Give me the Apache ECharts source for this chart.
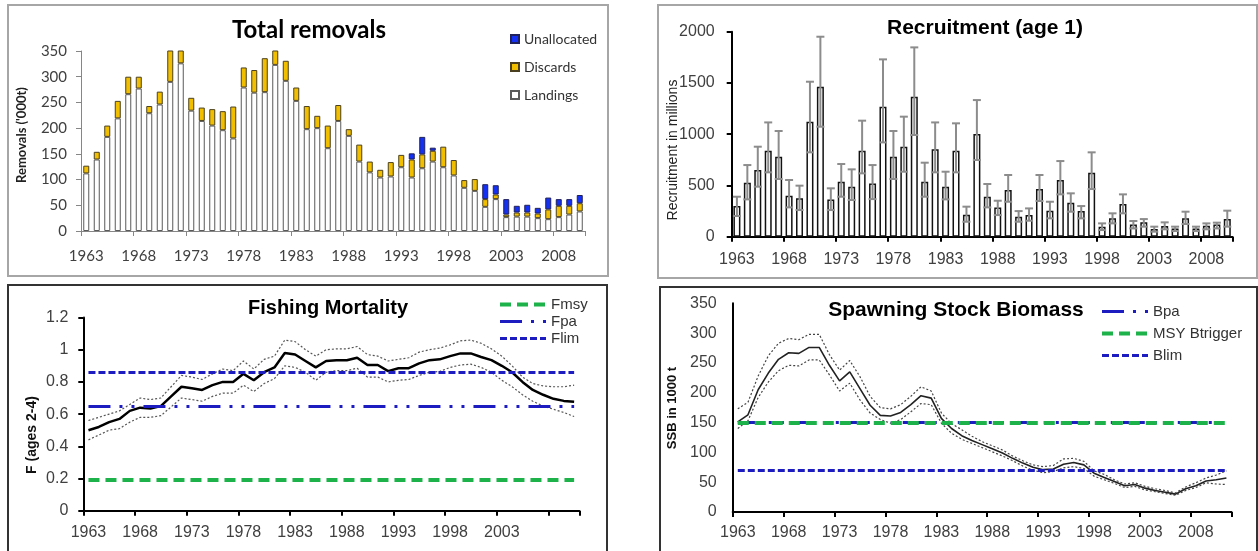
<!DOCTYPE html>
<html><head><meta charset="utf-8">
<script src="https://cdn.jsdelivr.net/npm/echarts@6/dist/echarts.min.js"></script>
<style>html,body{margin:0;padding:0;background:#fff}#c{width:1258px;height:551px}</style>
</head><body><div id="c"></div>
<script>
// ---------- categories ----------
const years = ['1963','1964','1965','1966','1967','1968','1969','1970','1971','1972',
  '1973','1974','1975','1976','1977','1978','1979','1980','1981','1982',
  '1983','1984','1985','1986','1987','1988','1989','1990','1991','1992',
  '1993','1994','1995','1996','1997','1998','1999','2000','2001','2002',
  '2003','2004','2005','2006','2007','2008','2009','2010'];
const ssbYears = ['1963','1964','1965','1966','1967','1968','1969','1970','1971','1972',
  '1973','1974','1975','1976','1977','1978','1979','1980','1981','1982',
  '1983','1984','1985','1986','1987','1988','1989','1990','1991','1992',
  '1993','1994','1995','1996','1997','1998','1999','2000','2001','2002',
  '2003','2004','2005','2006','2007','2008','2009','2010','2011'];

// ---------- Total removals ('000 t) ----------
const landings = [112,139,183,219,266,277,229,246,290,326,
  234,214,205,196,180,279,269,270,323,292,
  253,198,200,161,214,185,135,114,104,106,
  124,104,122,135,124,108,84,78,47,62,
  27,28,28,25,23,27,32,38];
const discards = [15,15,22,34,34,23,14,25,64,32,
  25,26,32,37,62,39,44,66,37,39,
  26,45,24,44,31,13,33,21,15,28,
  24,35,27,21,40,30,15,23,15,9,
  5,8,8,9,19,22,17,16];
const unallocated = [0,0,0,0,0,0,0,0,0,0,
  0,0,0,0,0,0,0,0,0,0,
  0,0,0,0,0,0,0,0,0,0,
  0,12,34,6,0,0,0,0,29,18,
  30,13,15,11,23,13,13,16];

// ---------- Recruitment (age 1), millions ----------
const recruit = [299,527,650,839,780,400,374,1122,1463,364,
  537,488,839,520,1268,780,878,1366,537,852,
  488,839,215,1002,390,286,455,195,211,465,
  254,553,332,250,624,98,179,319,120,140,
  75,104,81,179,81,107,120,172];
const recruitHigh = [390,699,878,1115,1031,553,498,1512,1951,472,
  709,657,1132,699,1730,1031,1171,1847,722,1115,
  634,1106,293,1333,514,351,602,250,276,602,
  341,738,423,299,823,130,228,413,153,172,
  98,140,98,244,98,130,137,254];
const recruitLow = [202,364,488,628,563,286,260,823,1073,260,
  390,358,618,367,920,563,634,992,390,628,
  364,628,146,748,286,211,341,146,156,348,
  179,413,244,179,465,65,130,228,81,98,
  49,72,55,124,55,72,81,98];

// ---------- Fishing mortality F (ages 2-4) ----------
const fMain = [0.50,0.52,0.55,0.57,0.62,0.64,0.635,0.65,0.71,0.77,
  0.76,0.75,0.78,0.80,0.80,0.85,0.81,0.86,0.89,0.98,
  0.97,0.93,0.89,0.93,0.935,0.935,0.95,0.905,0.905,0.867,
  0.885,0.885,0.915,0.935,0.94,0.96,0.977,0.977,0.955,0.935,
  0.90,0.86,0.80,0.75,0.72,0.695,0.682,0.677];
const fHigh = [0.56,0.58,0.60,0.62,0.66,0.70,0.69,0.70,0.77,0.84,
  0.83,0.815,0.85,0.88,0.87,0.93,0.88,0.94,0.96,1.06,
  1.05,1.00,0.96,1.00,1.005,1.005,1.02,0.97,0.96,0.93,
  0.94,0.95,0.985,1.00,1.01,1.03,1.055,1.06,1.04,1.005,
  0.96,0.90,0.83,0.79,0.775,0.77,0.77,0.78];
const fLow = [0.44,0.47,0.50,0.51,0.55,0.58,0.58,0.59,0.645,0.70,
  0.69,0.68,0.71,0.73,0.73,0.78,0.74,0.79,0.82,0.90,
  0.89,0.86,0.81,0.86,0.87,0.87,0.885,0.83,0.83,0.80,
  0.81,0.815,0.84,0.86,0.865,0.89,0.905,0.91,0.89,0.86,
  0.81,0.77,0.72,0.68,0.65,0.63,0.61,0.585];
const FMSY = 0.19, FPA = 0.65, FLIM = 0.86;

// ---------- Spawning stock biomass (1000 t) ----------
const ssbMain = [151,163,205,233,256,267,266,276,276,246,
  220,235,207,179,162,161,167,180,195,191,
  157,140,128,120,113,106,99,90,82,75,
  71,72,80,83,79,65,58,51,44,46,
  40,36,33,30,39,44,52,54,57];
const ssbHigh = [173,184,228,262,283,291,289,298,298,264,
  238,254,227,194,175,173,180,194,210,203,
  166,148,138,127,118,111,104,94,86,79,
  76,78,89,90,85,69,63,54,47,49,
  43,39,36,32,42,49,57,62,69];
const ssbLow = [140,153,192,218,237,246,245,255,255,230,
  203,216,188,166,155,149,155,168,182,180,
  149,132,122,115,108,101,94,86,77,70,
  66,68,74,76,73,60,54,48,41,43,
  37,34,31,28,36,41,49,47,46];
const BPA = 150, MSYBTRIGGER = 150, BLIM = 70;

// ---------- styles ----------
const ARIAL = 'Liberation Sans';
const LAB = '#404040';
const GREEN = '#1db34a';
const BLUE = '#1c1cc0';
const dashGreen = [11, 6];
const dashBlue = [7, 3];
const dashDotDot = [22, 9, 3, 9, 3, 9];

function refLine(name, xi, yi, cats, value, color, width, type) {
  return {
    name, type: 'line', xAxisIndex: xi, yAxisIndex: yi, data: [], symbol: 'none',
    color: color, lineStyle: {color, width, type},
    markLine: {
      silent: true, symbol: ['none', 'none'], label: {show: false},
      emphasis: {disabled: true},
      lineStyle: {color, width, type},
      data: [[{coord: [cats[0], value]}, {coord: [cats[cats.length - 1], value]}]]
    }
  };
}

function catAxis(gi, data, o) {
  return {
    type: 'category', gridIndex: gi, data, boundaryGap: true,
    axisLine: {show: true, lineStyle: {color: o.color, width: o.width}},
    axisTick: {show: true, interval: 4, length: 5, lineStyle: {color: o.color, width: o.width}},
    axisLabel: {interval: o.labelInterval || 4, margin: o.margin, fontSize: o.fontSize,
      fontFamily: o.font, color: LAB},
    splitLine: {show: false}
  };
}
function valAxis(gi, min, max, interval, o) {
  return {
    type: 'value', gridIndex: gi, min, max, interval,
    axisLine: {show: true, lineStyle: {color: o.color, width: o.width}},
    axisTick: {show: o.ticks, length: 5, lineStyle: {color: o.color, width: o.width}},
    axisLabel: {margin: o.margin, fontSize: o.fontSize, fontFamily: o.font, color: LAB,
      formatter: function (v) { return String(v); }},
    splitLine: {show: false}
  };
}

function txt(text, x, y, font, rot, color) {
  return {type: 'text', x, y, rotation: rot || 0, silent: true,
    style: {text, font, fill: color || '#000', textAlign: 'center', textVerticalAlign: 'middle',
      align: 'center', verticalAlign: 'middle'}};
}
function frame(x, y, w, h, color) {
  return {type: 'rect', silent: true, shape: {x, y, width: w, height: h},
    style: {fill: 'none', stroke: color, lineWidth: 2}};
}

const chart = echarts.init(document.getElementById('c'), null, {renderer: 'canvas'});
chart.setOption({
  animation: false,
  backgroundColor: '#fff',
  textStyle: {fontFamily: ARIAL},
  grid: [
    {left: 81, top: 51, width: 504, height: 180, outerBoundsMode: 'none'},
    {left: 731.7, top: 31.7, width: 500.8, height: 205, outerBoundsMode: 'none'},
    {left: 83.3, top: 317.5, width: 496, height: 193.2, outerBoundsMode: 'none'},
    {left: 732.7, top: 303.3, width: 498.8, height: 208.7, outerBoundsMode: 'none'}
  ],
  xAxis: [
    catAxis(0, years, {color: '#868686', width: 1, margin: 18, fontSize: 15, font: 'Lato'}),
    catAxis(1, years, {color: '#000', width: 2, margin: 15, fontSize: 16, font: ARIAL}),
    catAxis(2, years, {color: '#000', width: 2, margin: 14, fontSize: 16, font: ARIAL,
      labelInterval: function (i, v) { return i % 5 === 0 && v !== '2008'; }}),
    catAxis(3, ssbYears, {color: '#000', width: 2, margin: 13, fontSize: 16, font: ARIAL})
  ],
  yAxis: [
    valAxis(0, 0, 350, 50, {color: '#868686', width: 1, ticks: true, margin: 14, fontSize: 15, font: 'Lato'}),
    valAxis(1, 0, 2000, 500, {color: '#000', width: 2, ticks: true, margin: 17, fontSize: 16, font: ARIAL}),
    valAxis(2, 0, 1.2, 0.2, {color: '#000', width: 2, ticks: true, margin: 15, fontSize: 16, font: ARIAL}),
    valAxis(3, 0, 350, 50, {color: '#000', width: 2, ticks: false, margin: 16, fontSize: 16, font: ARIAL})
  ],
  legend: [
    {data: ['Unallocated', 'Discards', 'Landings'], orient: 'vertical', left: 505, top: 27,
      icon: 'rect', itemWidth: 8, itemHeight: 8, itemGap: 14, selectedMode: false,
      textStyle: {fontFamily: 'Lato', fontSize: 14, color: '#333'}},
    {data: [
        {name: 'Fmsy', lineStyle: {color: GREEN, width: 4, type: dashGreen}},
        {name: 'Fpa', lineStyle: {color: BLUE, width: 3, type: dashDotDot}},
        {name: 'Flim', lineStyle: {color: BLUE, width: 3, type: dashBlue}}],
      orient: 'vertical', left: 493, top: 292, itemWidth: 46, itemHeight: 12, itemGap: 2,
      selectedMode: false, itemStyle: {opacity: 0},
      textStyle: {fontFamily: ARIAL, fontSize: 15, color: '#333'}},
    {data: [
        {name: 'Bpa', lineStyle: {color: BLUE, width: 3, type: dashDotDot}},
        {name: 'MSY Btrigger', lineStyle: {color: GREEN, width: 4, type: dashGreen}},
        {name: 'Blim', lineStyle: {color: BLUE, width: 3, type: dashBlue}}],
      orient: 'vertical', left: 1095, top: 299, itemWidth: 46, itemHeight: 12, itemGap: 7,
      selectedMode: false, itemStyle: {opacity: 0},
      textStyle: {fontFamily: ARIAL, fontSize: 15, color: '#333'}}
  ],
  graphic: [
    frame(8, 5, 600, 271, '#a6a6a6'),
    frame(658, 5, 599, 273, '#a6a6a6'),
    frame(8, 285, 599, 290, '#333'),
    frame(660, 287, 597, 290, '#333'),
    txt('Total removals', 309, 30, 'bold 24px Lato'),
    txt('Recruitment (age 1)', 985, 28, 'bold 21px ' + ARIAL),
    txt('Fishing Mortality', 328, 308, 'bold 20px ' + ARIAL),
    txt('Spawning Stock Biomass', 956, 310, 'bold 21px ' + ARIAL),
    txt("Removals ('000t)", 22, 135, 'bold 13px Lato', Math.PI / 2, '#222'),
    txt('Recruitment in millions', 673, 150, '14px ' + ARIAL, Math.PI / 2, '#222'),
    txt('F (ages 2-4)', 32, 435, 'bold 14px ' + ARIAL, Math.PI / 2, '#111'),
    txt('SSB in 1000 t', 672, 408, 'bold 13px ' + ARIAL, Math.PI / 2, '#111')
  ],
  series: [
    {name: 'Landings', type: 'bar', xAxisIndex: 0, yAxisIndex: 0, stack: 'rem', barWidth: 6,
      itemStyle: {color: '#ffffff', borderColor: '#5a5a5a', borderWidth: 1}, data: landings},
    {name: 'Discards', type: 'bar', xAxisIndex: 0, yAxisIndex: 0, stack: 'rem', barWidth: 6,
      itemStyle: {color: '#f2bf00', borderColor: '#4a4020', borderWidth: 1}, data: discards},
    {name: 'Unallocated', type: 'bar', xAxisIndex: 0, yAxisIndex: 0, stack: 'rem', barWidth: 6,
      itemStyle: {color: '#1430f2', borderColor: '#20205a', borderWidth: 1},
      data: unallocated.map(v => (v > 0 ? v : null))},

    {name: 'Recruitment', type: 'bar', xAxisIndex: 1, yAxisIndex: 1, barWidth: 7,
      itemStyle: {color: '#ffffff', borderColor: '#111', borderWidth: 1.5}, data: recruit},
    {name: 'Recruitment CI', type: 'custom', xAxisIndex: 1, yAxisIndex: 1, z: 3,
      data: years.map((y, i) => [i, recruitLow[i], recruitHigh[i]]),
      encode: {x: 0, y: [1, 2]},
      renderItem: function (params, api) {
        const i = api.value(0);
        const lo = api.coord([i, api.value(1)]);
        const hi = api.coord([i, api.value(2)]);
        const h = 4;
        const st = {stroke: '#8c8c8c', lineWidth: 2};
        return {type: 'group', children: [
          {type: 'line', shape: {x1: lo[0], y1: lo[1], x2: hi[0], y2: hi[1]}, style: {stroke: '#8c8c8c', lineWidth: 2}},
          {type: 'line', shape: {x1: hi[0] - h, y1: hi[1], x2: hi[0] + h, y2: hi[1]}, style: st},
          {type: 'line', shape: {x1: lo[0] - h, y1: lo[1], x2: lo[0] + h, y2: lo[1]}, style: st}
        ]};
      }},

    refLine('Fmsy', 2, 2, years, FMSY, GREEN, 4, dashGreen),
    refLine('Fpa', 2, 2, years, FPA, BLUE, 3, dashDotDot),
    refLine('Flim', 2, 2, years, FLIM, BLUE, 3, dashBlue),
    {name: 'F upper', type: 'line', xAxisIndex: 2, yAxisIndex: 2, data: fHigh, symbol: 'none',
      lineStyle: {color: '#555', width: 1.2, type: [2, 2]}},
    {name: 'F lower', type: 'line', xAxisIndex: 2, yAxisIndex: 2, data: fLow, symbol: 'none',
      lineStyle: {color: '#555', width: 1.2, type: [2, 2]}},
    {name: 'F', type: 'line', xAxisIndex: 2, yAxisIndex: 2, data: fMain, symbol: 'none',
      lineStyle: {color: '#000', width: 2.5}},

    refLine('Bpa', 3, 3, ssbYears, BPA, BLUE, 3, dashDotDot),
    refLine('MSY Btrigger', 3, 3, ssbYears, MSYBTRIGGER, GREEN, 4, dashGreen),
    refLine('Blim', 3, 3, ssbYears, BLIM, BLUE, 3, dashBlue),
    {name: 'SSB upper', type: 'line', xAxisIndex: 3, yAxisIndex: 3, data: ssbHigh, symbol: 'none',
      lineStyle: {color: '#444', width: 1.2, type: [2, 2]}},
    {name: 'SSB lower', type: 'line', xAxisIndex: 3, yAxisIndex: 3, data: ssbLow, symbol: 'none',
      lineStyle: {color: '#444', width: 1.2, type: [2, 2]}},
    {name: 'SSB', type: 'line', xAxisIndex: 3, yAxisIndex: 3, data: ssbMain, symbol: 'none',
      lineStyle: {color: '#222', width: 1.6}}
  ]
});
</script>
</body></html>
